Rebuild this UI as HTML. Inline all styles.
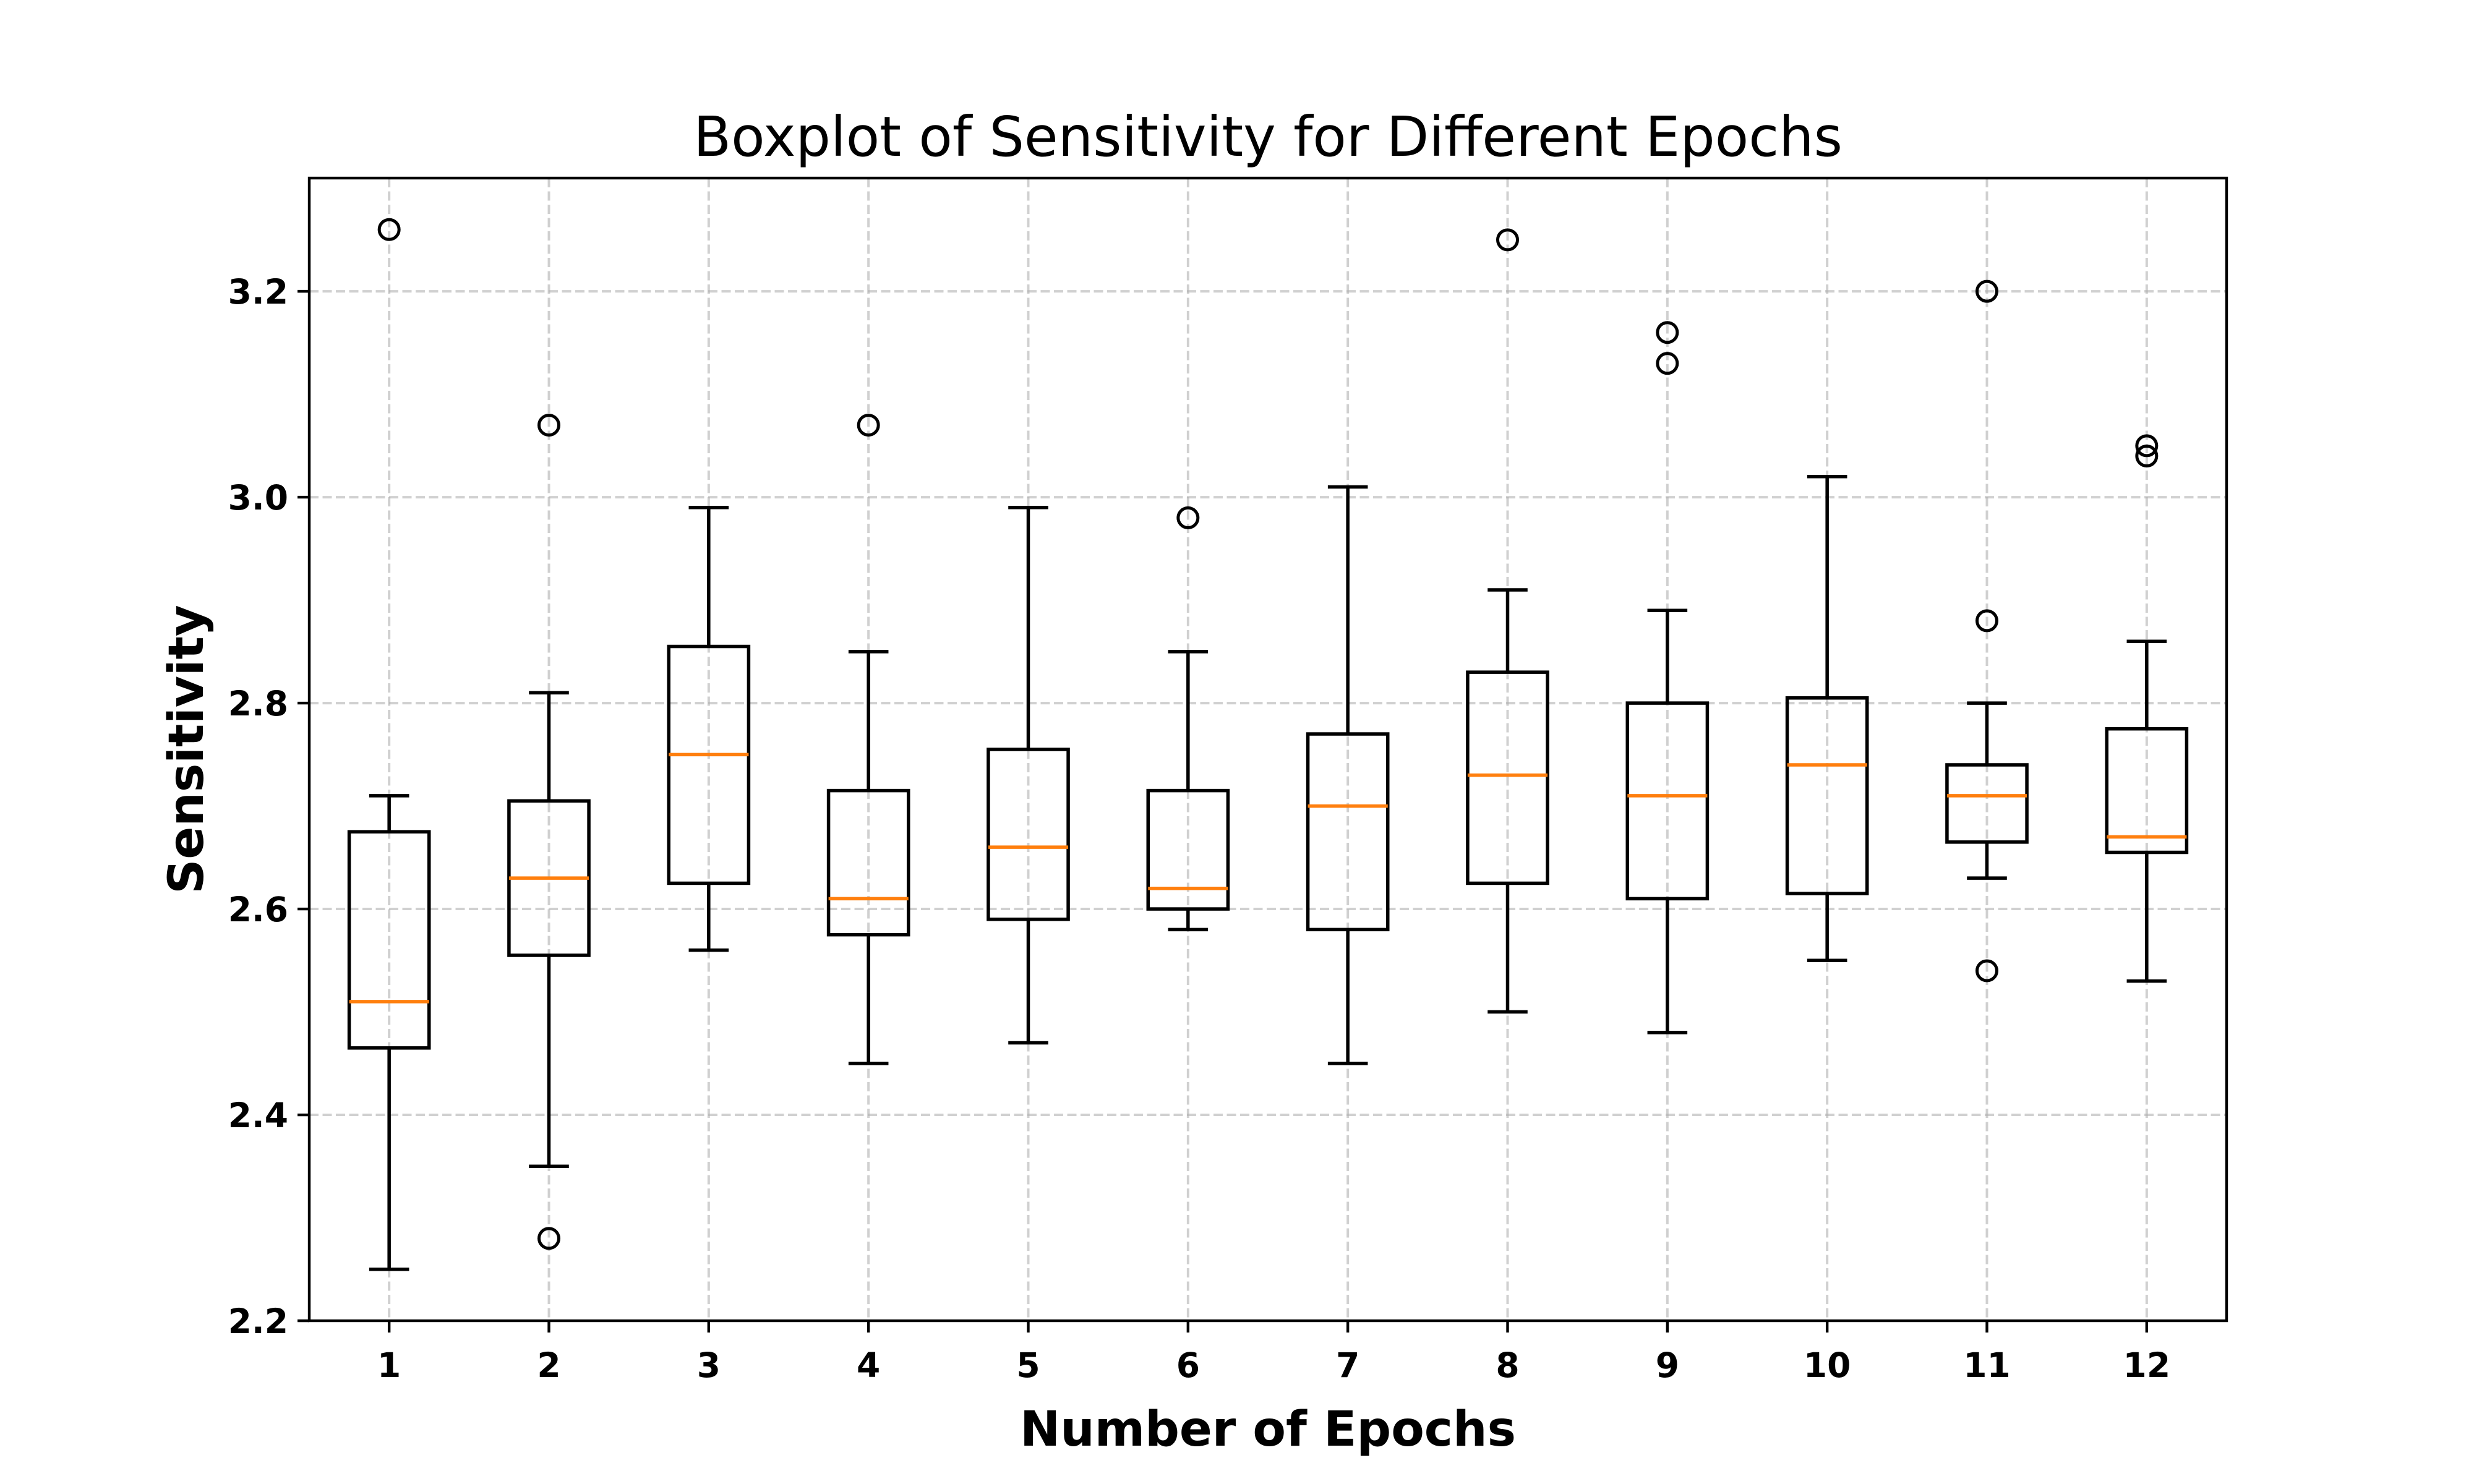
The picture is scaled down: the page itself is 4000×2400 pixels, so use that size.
<!DOCTYPE html>
<html><head><meta charset="utf-8"><style>
html,body{margin:0;padding:0;background:#fff}
svg{display:block;font-family:"DejaVu Sans","Liberation Sans",sans-serif}
</style></head><body>
<svg id="chart" width="4000" height="2400" viewBox="0 0 4000 2400" xmlns="http://www.w3.org/2000/svg">
<rect width="4000" height="2400" fill="#fff"/>
<text x="2050" y="252" font-size="89" text-anchor="middle" fill="#000">Boxplot of Sensitivity for Different Epochs</text>
<text x="2050" y="2338" font-size="78" font-weight="bold" text-anchor="middle">Number of Epochs</text>
<text transform="translate(328,1212) rotate(-90)" font-size="78" font-weight="bold" text-anchor="middle">Sensitivity</text>
<g id="grid"></g><g id="boxes"></g><g id="ticks"></g>
<rect x="500" y="288" width="3100" height="1848" fill="none" stroke="#000" stroke-width="4.4"/>
</svg>
<script>
const categories = ["1","2","3","4","5","6","7","8","9","10","11","12"];
const whiskerLow = [2.25,2.35,2.56,2.45,2.47,2.58,2.45,2.50,2.48,2.55,2.63,2.53];
const q1 = [2.465,2.555,2.625,2.575,2.59,2.60,2.58,2.625,2.61,2.615,2.665,2.655];
const medians = [2.51,2.63,2.75,2.61,2.66,2.62,2.70,2.73,2.71,2.74,2.71,2.67];
const q3 = [2.675,2.705,2.855,2.715,2.755,2.715,2.77,2.83,2.80,2.805,2.74,2.775];
const whiskerHigh = [2.71,2.81,2.99,2.85,2.99,2.85,3.01,2.91,2.89,3.02,2.80,2.86];
const outliers = [[3.26],[3.07,2.28],[],[3.07],[],[2.98],[],[3.25],[3.16,3.13],[],[3.20,2.88,2.54],[3.05,3.04]];
const yTicks = [2.2,2.4,2.6,2.8,3.0,3.2];
const yTickLabels = ["2.2","2.4","2.6","2.8","3.0","3.2"];

const L=500,R=3600,T=288,B=2136,yMin=2.2,yMax=3.31;
const X=i=>L+(R-L)*(i+0.5)/categories.length;
const Y=v=>B-(v-yMin)/(yMax-yMin)*(B-T);
const unit=(R-L)/categories.length;
const NS="http://www.w3.org/2000/svg";
function mk(tag,attrs,parent){const e=document.createElementNS(NS,tag);for(const k in attrs)e.setAttribute(k,attrs[k]);parent.appendChild(e);return e;}
const grid=document.getElementById('grid'),boxes=document.getElementById('boxes'),ticks=document.getElementById('ticks');
const gs={stroke:"#b0b0b0","stroke-width":"4","stroke-dasharray":"15 6.5","stroke-opacity":"0.6"};
yTicks.forEach((v,i)=>{
  const g=mk('line',Object.assign({x1:L,x2:R,y1:Y(v),y2:Y(v)},gs),grid);
  
  
  const t=mk('line',{x1:L-19,x2:L,y1:Y(v),y2:Y(v),stroke:"#000","stroke-width":"4.4"},ticks);
  
  
  const tx=mk('text',{x:L-34,y:Y(v)+20,"font-size":"55","font-weight":"bold","text-anchor":"end"},ticks);
  tx.textContent=yTickLabels[i];
  
  
});
categories.forEach((c,i)=>{
  const x=X(i);
  const g=mk('line',Object.assign({x1:x,x2:x,y1:T,y2:B},gs),grid);
  
  
  const t=mk('line',{x1:x,x2:x,y1:B,y2:B+19,stroke:"#000","stroke-width":"4.4"},ticks);
  
  
  const tx=mk('text',{x:x,y:B+91,"font-size":"55","font-weight":"bold","text-anchor":"middle"},ticks);
  tx.textContent=c;
  
  
  const grp=mk('g',{},boxes);
  
  
  const bw=unit*0.25,cw=unit*0.125,sw={stroke:"#000","stroke-width":"5.5",fill:"none"};
  mk('line',Object.assign({x1:x,x2:x,y1:Y(q1[i]),y2:Y(whiskerLow[i])},sw),grp);
  mk('line',Object.assign({x1:x,x2:x,y1:Y(q3[i]),y2:Y(whiskerHigh[i])},sw),grp);
  mk('line',Object.assign({x1:x-cw,x2:x+cw,y1:Y(whiskerLow[i]),y2:Y(whiskerLow[i])},sw),grp);
  mk('line',Object.assign({x1:x-cw,x2:x+cw,y1:Y(whiskerHigh[i]),y2:Y(whiskerHigh[i])},sw),grp);
  mk('rect',Object.assign({x:x-bw,y:Y(q3[i]),width:2*bw,height:Y(q1[i])-Y(q3[i])},sw),grp);
  mk('line',{x1:x-bw,x2:x+bw,y1:Y(medians[i]),y2:Y(medians[i]),stroke:"#ff7f0e","stroke-width":"5.5"},grp);
  outliers[i].forEach(v=>{
    const o=mk('circle',{cx:x,cy:Y(v),r:16,fill:"none",stroke:"#000","stroke-width":"5"},grp);
    
    
  });
});
</script>
</body></html>
